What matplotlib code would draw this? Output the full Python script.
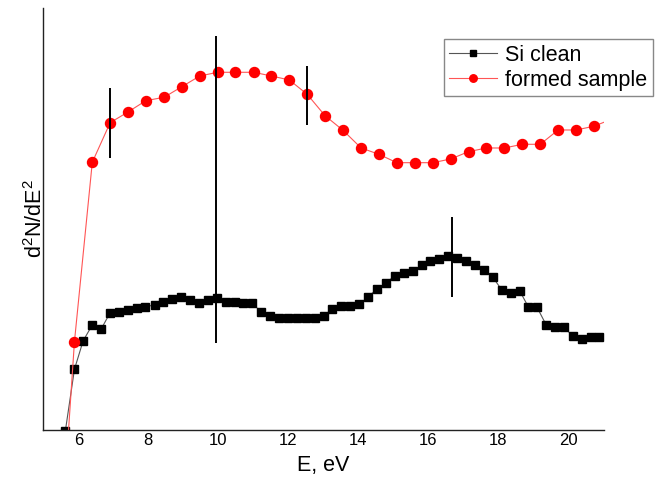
import matplotlib
matplotlib.use("Agg")
import matplotlib.pyplot as plt

plt.rcParams['font.family'] = ['Liberation Sans', 'DejaVu Sans']
plt.rcParams['mathtext.default'] = 'regular'

# ---- data (arbitrary units on y) ----
si_x = [5.63, 5.89, 6.14, 6.40, 6.65, 6.91, 7.16, 7.41, 7.67, 7.92,
        8.18, 8.43, 8.69, 8.94, 9.19, 9.45, 9.70, 9.96, 10.21, 10.47,
        10.72, 10.97, 11.23, 11.48, 11.74, 11.99, 12.25, 12.50, 12.75, 13.01,
        13.26, 13.52, 13.77, 14.03, 14.28, 14.53, 14.79, 15.04, 15.30, 15.55,
        15.81, 16.06, 16.32, 16.57, 16.82, 17.08, 17.33, 17.59, 17.84, 18.10,
        18.35, 18.61, 18.86, 19.11, 19.37, 19.62, 19.88, 20.13, 20.39, 20.64,
        20.89]
si_y = [-0.01, 0.607, 0.893, 1.05, 1.007, 1.173, 1.183, 1.20, 1.217, 1.233,
        1.25, 1.283, 1.307, 1.325, 1.30, 1.265, 1.295, 1.32, 1.275, 1.275,
        1.265, 1.265, 1.18, 1.14, 1.12, 1.117, 1.117, 1.115, 1.117, 1.14,
        1.21, 1.235, 1.24, 1.255, 1.333, 1.407, 1.473, 1.54, 1.57, 1.585,
        1.65, 1.69, 1.71, 1.74, 1.715, 1.685, 1.65, 1.60, 1.53, 1.40,
        1.373, 1.393, 1.23, 1.225, 1.05, 1.03, 1.025, 0.94, 0.913, 0.927,
        0.927]

formed_x = [5.37, 5.89, 6.40, 6.91, 7.42, 7.93, 8.45, 8.96, 9.47, 9.98,
            10.49, 11.01, 11.52, 12.03, 12.54, 13.05, 13.57, 14.08, 14.59, 15.10,
            15.61, 16.13, 16.64, 17.15, 17.66, 18.17, 18.69, 19.20, 19.71, 20.22,
            20.73, 21.24]
formed_y = [-1.84, 0.883, 2.677, 3.073, 3.18, 3.293, 3.327, 3.433, 3.54, 3.577,
            3.577, 3.577, 3.54, 3.50, 3.357, 3.143, 2.995, 2.82, 2.757, 2.673,
            2.673, 2.673, 2.71, 2.783, 2.82, 2.82, 2.857, 2.857, 3.00, 3.00,
            3.037, 3.108]

# vertical bars
bar_x = [6.91, 9.93, 12.54, 16.67]
bar_lo = [2.72, 0.867, 3.05, 1.333]
bar_hi = [3.42, 3.94, 3.643, 2.127]

# ---- plot ----
fig = plt.figure(figsize=(6.59, 4.84), dpi=100)
ax = fig.add_axes([0.0657, 0.1116, 0.8508, 0.8719])

ax.plot(si_x, si_y, color='#555555', lw=0.8, marker='s', ms=6.3,
        mfc='black', mec='black', label='Si clean')
ax.plot(formed_x, formed_y, color='#ff5555', lw=0.8, marker='o', ms=7.2,
        mfc='red', mec='red', label='formed sample')
ax.vlines(bar_x, bar_lo, bar_hi, color='black', lw=1.4, zorder=5)

ax.set_xlim(5.0, 21.02)
ax.set_ylim(0, 4.22)
ax.set_xticks([6, 8, 10, 12, 14, 16, 18, 20])
ax.set_yticks([])
ax.tick_params(axis='x', length=0, pad=2, labelsize=12)

for s in ['top', 'right']:
    ax.spines[s].set_visible(False)
for s in ['left', 'bottom']:
    ax.spines[s].set_linewidth(1.0)
    ax.spines[s].set_color('#222222')

ax.set_xlabel('E, eV', fontsize=15.5, labelpad=5)
ax.set_ylabel('d$^2$N/dE$^2$', fontsize=15.5, labelpad=-3)

leg = ax.legend(loc='upper left', bbox_to_anchor=(444 / 659, 1 - 39.3 / 484),
                bbox_transform=fig.transFigure, fontsize=15.5, frameon=True,
                fancybox=False, edgecolor='#888888', framealpha=1,
                handlelength=2.2, markerscale=0.75, borderpad=0.25,
                labelspacing=0.2, handletextpad=0.4, borderaxespad=0)
leg.get_frame().set_linewidth(1.0)

fig.savefig('out.png', dpi=100)
